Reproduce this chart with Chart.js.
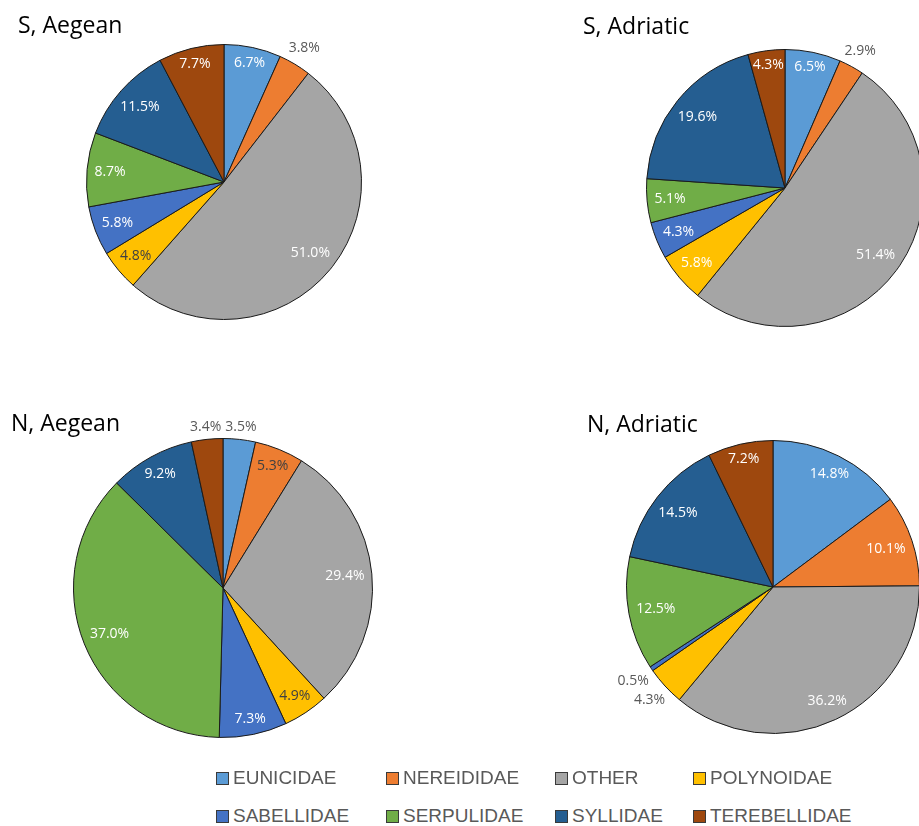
<!DOCTYPE html>
<html>
<head>
<meta charset="utf-8">
<script src="https://cdn.jsdelivr.net/npm/chart.js@4.4.1/dist/chart.umd.min.js"></script>
<style>
  body { margin: 0; width: 919px; height: 826px; overflow: hidden; background: #fff; position: relative; font-family: "Open Sans", sans-serif; }
  .pie { position: absolute; }
  .title { position: absolute; font-size: 23px; line-height: 23px; color: #000; white-space: nowrap; }
  .leg { position: absolute; font-family: "Liberation Sans", sans-serif; font-size: 19px; color: #595959; white-space: nowrap; line-height: 20px; }
  .leg span.box { position: absolute; left: 0; top: 4px; width: 11px; height: 11px; border: 1px solid #3a3a3a; }
  .leg span.txt { position: absolute; left: 17px; top: 0; }
</style>
</head>
<body>

<script>
// familles de polychètes, dans l'ordre des parts (sens horaire depuis midi)
const families = ['EUNICIDAE', 'NEREIDIDAE', 'OTHER', 'POLYNOIDAE', 'SABELLIDAE', 'SERPULIDAE', 'SYLLIDAE', 'TEREBELLIDAE'];
const colours = ['#5B9BD5', '#ED7D31', '#A5A5A5', '#FFC000', '#4472C4', '#70AD47', '#255E91', '#9E480E'];

const sAegean   = [6.7, 3.8, 51.0, 4.8, 5.8, 8.7, 11.5, 7.7];
const sAdriatic = [6.5, 2.9, 51.4, 5.8, 4.3, 5.1, 19.6, 4.3];
const nAegean   = [3.5, 5.3, 29.4, 4.9, 7.3, 37.0, 9.2, 3.4];
const nAdriatic = [14.8, 10.1, 36.2, 4.3, 0.5, 12.5, 14.5, 7.2];

// mise en page de chaque camembert
const panels = [
    { title: 'S, Aegean',   data: sAegean,   cx: 224, cy: 182, r: 138, tx: 18,  ty: 33,  outside: [1],    dark: [3] },
    { title: 'S, Adriatic', data: sAdriatic, cx: 785, cy: 188, r: 139, tx: 583, ty: 34,  outside: [1],    dark: [] },
    { title: 'N, Aegean',   data: nAegean,   cx: 223, cy: 588, r: 150, tx: 11,  ty: 431, outside: [0, 7], dark: [1, 3] },
    { title: 'N, Adriatic', data: nAdriatic, cx: 773, cy: 587, r: 147, tx: 587, ty: 432, outside: [3, 4], dark: [] }
];

const PAD = 50;
const LABEL_SIZE = 14;

// petit plugin maison pour écrire les pourcentages (pas de chartjs-plugin-datalabels)
const labelPlugin = {
    id: 'pctLabels',
    afterDatasetsDraw(chart, args, opts) {
        const ctx = chart.ctx;
        const meta = chart.getDatasetMeta(0);
        const values = chart.data.datasets[0].data;
        ctx.save();
        ctx.font = LABEL_SIZE + 'px "Open Sans"';
        ctx.textAlign = 'center';
        ctx.textBaseline = 'middle';
        meta.data.forEach((arc, i) => {
            const p = arc.getProps(['x', 'y', 'startAngle', 'endAngle', 'outerRadius'], true);
            const mid = (p.startAngle + p.endAngle) / 2;
            const txt = values[i].toFixed(1) + '%';
            const w = ctx.measureText(txt).width;
            const h = LABEL_SIZE * 0.75;
            const half = Math.abs(Math.cos(mid)) * w / 2 + Math.abs(Math.sin(mid)) * h / 2;
            const out = opts.outside.includes(i);
            const d = out ? p.outerRadius + 6 + half : p.outerRadius - 7 - half;
            if (out) ctx.fillStyle = '#595959';
            else if (opts.dark.includes(i)) ctx.fillStyle = '#404040';
            else ctx.fillStyle = '#ffffff';
            ctx.fillText(txt, p.x + Math.cos(mid) * d, p.y + Math.sin(mid) * d);
        });
        ctx.restore();
    }
};

panels.forEach(panel => {
    const size = 2 * (panel.r + PAD);
    const canvas = document.createElement('canvas');
    canvas.className = 'pie';
    canvas.width = size;
    canvas.height = size;
    canvas.style.left = (panel.cx - panel.r - PAD) + 'px';
    canvas.style.top = (panel.cy - panel.r - PAD) + 'px';
    document.body.appendChild(canvas);

    new Chart(canvas.getContext('2d'), {
        type: 'pie',
        data: {
            labels: families,
            datasets: [{
                data: panel.data,
                backgroundColor: colours,
                borderColor: '#1a1a1a',
                borderWidth: 1,
                hoverOffset: 0
            }]
        },
        options: {
            responsive: false,
            animation: false,
            layout: { padding: PAD },
            plugins: {
                legend: { display: false },
                tooltip: { enabled: false },
                pctLabels: { outside: panel.outside, dark: panel.dark }
            }
        },
        plugins: [labelPlugin]
    });

    const t = document.createElement('div');
    t.className = 'title';
    t.textContent = panel.title;
    t.style.left = panel.tx + 'px';
    t.style.top = (panel.ty - 20) + 'px';
    document.body.appendChild(t);
});

// légende commune en deux lignes de quatre
const legendX = [216, 386, 555, 693];
const legendY = [768, 806];
families.forEach((name, i) => {
    const item = document.createElement('div');
    item.className = 'leg';
    item.style.left = legendX[i % 4] + 'px';
    item.style.top = legendY[Math.floor(i / 4)] + 'px';
    item.innerHTML = '<span class="box"></span><span class="txt"></span>';
    item.querySelector('.box').style.background = colours[i];
    item.querySelector('.txt').textContent = name;
    document.body.appendChild(item);
});
</script>
</body>
</html>
